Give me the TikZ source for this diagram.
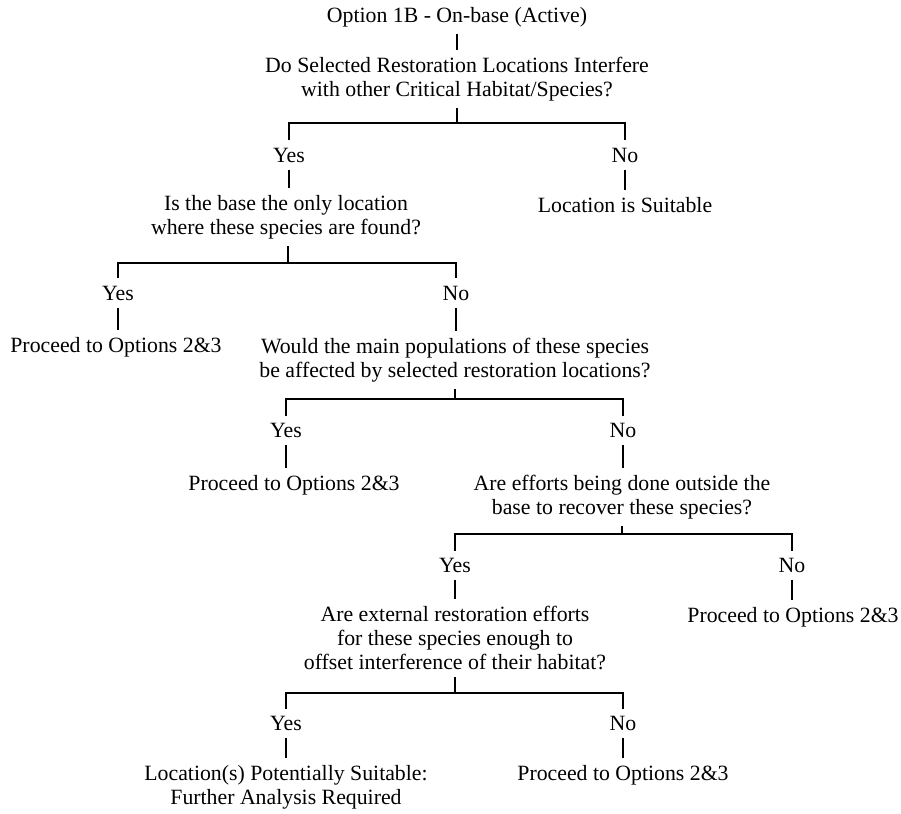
\documentclass[tikz,border=0pt]{standalone}
\usepackage{fontspec}
\setmainfont{Liberation Serif}

\tikzset{
  txt/.style={align=center, inner xsep=3pt, inner ysep=6pt, font=\fontsize{18.6}{20.5}\selectfont},
  link/.style={line width=1.6pt},
}

\begin{document}
\begin{tikzpicture}[x=0.03cm,y=-0.03cm]
  \useasboundingbox (0,0) rectangle (901,813);

  % questions and outcomes, top to bottom
  \node[txt] (opt)  at (457,17)  {Option 1B - On-base (Active)};
  \node[txt] (q1)   at (457,79)  {Do Selected Restoration Locations Interfere\\with other Critical Habitat/Species?};
  \node[txt] (yes1) at (289,155) {Yes};
  \node[txt] (no1)  at (625,155) {No};
  \node[txt] (suit) at (625,205) {Location is Suitable};
  \node[txt] (q2)   at (286,217) {Is the base the only location\\where these species are found?};
  \node[txt] (yes2) at (118,293) {Yes};
  \node[txt] (no2)  at (456,293) {No};
  \node[txt] (p1)   at (116,347) {Proceed to Options 2\&3};
  \node[txt] (q3)   at (455,360) {Would the main populations of these species\\be affected by selected restoration locations?};
  \node[txt] (yes3) at (286,430) {Yes};
  \node[txt] (no3)  at (623,430) {No};
  \node[txt] (p2)   at (294,485) {Proceed to Options 2\&3};
  \node[txt] (q4)   at (622,497) {Are efforts being done outside the\\base to recover these species?};
  \node[txt] (yes4) at (455,565) {Yes};
  \node[txt] (no4)  at (792,565) {No};
  \node[txt] (q5)   at (455,638) {Are external restoration efforts\\for these species enough to\\offset interference of their habitat?};
  \node[txt] (p3)   at (793,617) {Proceed to Options 2\&3};
  \node[txt] (yes5) at (286,723) {Yes};
  \node[txt] (no5)  at (623,723) {No};
  \node[txt] (loc)  at (286,787) {Location(s) Potentially Suitable:\\Further Analysis Required};
  \node[txt] (p4)   at (623,775) {Proceed to Options 2\&3};

  % joints of the yes/no brackets
  \coordinate (q1-fork) at (457,123);
  \coordinate (q2-fork) at (288,263);
  \coordinate (q3-fork) at (455,399);
  \coordinate (q4-fork) at (622,534);
  \coordinate (q5-fork) at (455,693);

  % straight ticks
  \foreach \a/\b in {opt/q1,yes1/q2,no1/suit,yes2/p1,no2/q3,yes3/p2,
                     no3/q4,yes4/q5,no4/p3,yes5/loc,no5/p4}
    \draw[link] (\a.south) -- (\a.south |- \b.north);

  % brackets
  \foreach \p/\l/\r in {q1/yes1/no1,q2/yes2/no2,q3/yes3/no3,q4/yes4/no4,q5/yes5/no5}{
    \draw[link] (\p-fork |- \p.south) -- (\p-fork);
    \draw[link] (\l.north) |- (\p-fork) -| (\r.north);
  }
\end{tikzpicture}
\end{document}
